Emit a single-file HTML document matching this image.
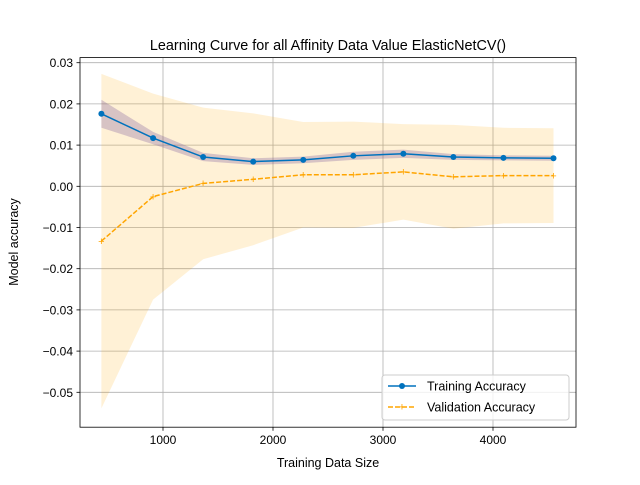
<!DOCTYPE html>
<html><head><meta charset="utf-8"><style>
body{margin:0;background:#fff;}
svg text{font-family:"Liberation Sans","DejaVu Sans",sans-serif;fill:#000;}
</style></head><body>
<svg id="chart" width="640" height="480" xmlns="http://www.w3.org/2000/svg">
<rect width="640" height="480" fill="#fff"/>
<g id="grid"></g>
<g id="bands"></g>
<g id="lines"></g>
<rect x="80" y="57.6" width="496" height="369.6" fill="none" stroke="#000" stroke-width="0.8"/>
<g id="xticks"></g><g id="yticks"></g>
<text x="328" y="50" font-size="14.4" text-anchor="middle">Learning Curve for all Affinity Data Value ElasticNetCV()</text>
<text x="328" y="467" font-size="12.5" text-anchor="middle">Training Data Size</text>
<text transform="translate(18,242) rotate(-90)" font-size="12.5" text-anchor="middle">Model accuracy</text>
<g>
<rect x="382" y="375" width="187" height="45" rx="3" fill="#fff" fill-opacity="0.8" stroke="#ccc"/>
<line x1="388" y1="386" x2="416" y2="386" stroke="#0072BD" stroke-width="1.5"/>
<circle cx="402" cy="386" r="3" fill="#0072BD"/>
<text x="427" y="390.5" font-size="12.5">Training Accuracy</text>
<line x1="388" y1="407" x2="416" y2="407" stroke="#FFA500" stroke-width="1.5" stroke-dasharray="5,2"/>
<text x="402" y="410.5" font-size="11" fill="#FFA500" text-anchor="middle" style="fill:#FFA500">+</text>
<text x="427" y="411.5" font-size="12.5">Validation Accuracy</text>
</g>
</svg>
<script>
const sizes=[440,910,1365,1820,2275,2730,3185,3640,4095,4550];
const trainMean=[0.0176,0.0117,0.0071,0.0060,0.0064,0.0074,0.0079,0.0071,0.0069,0.0068];
const trainStd=[0.0034,0.0015,0.0010,0.0008,0.0008,0.0010,0.0010,0.0007,0.0006,0.0006];
const valMean=[-0.0133,-0.0025,0.0007,0.0017,0.0028,0.0028,0.0035,0.0023,0.0026,0.0026];
const valStd=[0.0406,0.0250,0.0184,0.0160,0.0128,0.0129,0.0116,0.0126,0.0116,0.0115];
const xTicks=[1000,2000,3000,4000];
const yTicks=[0.03,0.02,0.01,0.00,-0.01,-0.02,-0.03,-0.04,-0.05];
const X=v=>53+v*0.11;
const Y=v=>186.3-v*4120;
const NS="http://www.w3.org/2000/svg";
function mk(p,t,a){const e=document.createElementNS(NS,t);for(const k in a)e.setAttribute(k,a[k]);document.getElementById(p).appendChild(e);return e;}
xTicks.forEach(v=>{
 const g=mk('grid','line',{x1:X(v),x2:X(v),y1:57.6,y2:427.2,stroke:'#b0b0b0','stroke-width':0.8});
 
 
 mk('xticks','line',{x1:X(v),x2:X(v),y1:427.2,y2:430.7,stroke:'#000','stroke-width':0.8});
 const t=mk('xticks','text',{x:X(v),y:444,'font-size':12,'text-anchor':'middle'});t.textContent=v;
 
 
});
yTicks.forEach(v=>{
 const g=mk('grid','line',{x1:80,x2:576,y1:Y(v),y2:Y(v),stroke:'#b0b0b0','stroke-width':0.8});
 
 
 mk('yticks','line',{x1:76.5,x2:80,y1:Y(v),y2:Y(v),stroke:'#000','stroke-width':0.8});
 const t=mk('yticks','text',{x:73,y:Y(v)+4.5,'font-size':12,'text-anchor':'end'});t.textContent=(v<0?'\u2212':'')+Math.abs(v).toFixed(2);
 
 
});
function band(m,s,fill,op,name){
 const up=sizes.map((x,i)=>X(x)+','+Y(m[i]+s[i]));
 const dn=sizes.map((x,i)=>X(x)+','+Y(m[i]-s[i])).reverse();
 const p=mk('bands','polygon',{points:up.concat(dn).join(' '),fill:fill,'fill-opacity':op});
 
 
}
band(valMean,valStd,'#FFA500',0.16,'validation-std-band');
band(trainMean,trainStd,'#7a5a9a',0.3,'training-std-band');
const pl=(m,c,d,name)=>{const l=mk('lines','polyline',{points:sizes.map((x,i)=>X(x)+','+Y(m[i])).join(' '),fill:'none',stroke:c,'stroke-width':1.5,'stroke-dasharray':d});
 
 };
pl(valMean,'#FFA500','5,2','validation-line');
sizes.forEach((x,i)=>{const t=mk('lines','text',{x:X(x),y:Y(valMean[i])+3.8,'font-size':11,'text-anchor':'middle',style:'fill:#FFA500'});t.textContent='+';
 
 });
pl(trainMean,'#0072BD','none','training-line');
sizes.forEach((x,i)=>{const c=mk('lines','circle',{cx:X(x),cy:Y(trainMean[i]),r:3,fill:'#0072BD'});
 
 });
</script>
</body></html>
